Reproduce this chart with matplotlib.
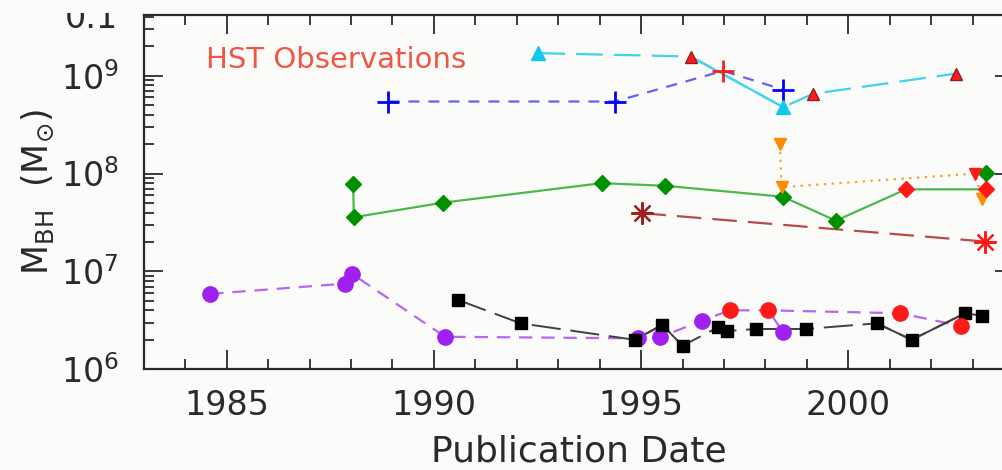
import matplotlib
matplotlib.use("Agg")
import matplotlib.pyplot as plt
from matplotlib.ticker import MultipleLocator
from matplotlib.transforms import Bbox

# Black hole mass estimates vs publication date (red markers = HST observations)

# purple circles
purple_year = [1984.6, 1987.86, 1988.03, 1990.27, 1994.93, 1995.46, 1996.46, 1997.15, 1998.07, 2001.25, 2002.72]
purple_mass = [5.9e6, 7.5e6, 9.4e6, 2.15e6, 2.07e6, 2.12e6, 3.14e6, 4.0e6, 4.0e6, 3.74e6, 2.77e6]
purple_hst = [0, 0, 0, 0, 0, 0, 0, 1, 1, 1, 1]
purple_rev_year = [1998.07, 1998.43]
purple_rev_mass = [4.0e6, 2.39e6]

# black squares
black_year = [1990.59, 1992.09, 1994.85, 1995.51, 1996.0, 1996.86, 1997.07, 1997.77, 1998.97, 2000.69, 2001.53, 2002.82, 2003.22]
black_mass = [5.1e6, 2.95e6, 2.0e6, 2.84e6, 1.74e6, 2.69e6, 2.46e6, 2.58e6, 2.58e6, 2.95e6, 2.0e6, 3.74e6, 3.53e6]
black_solid = [(2, 3), (3, 4), (7, 8), (9, 10), (10, 11)]

# green diamonds
green_year = [1988.05, 1988.07, 1990.23, 1994.05, 1995.58, 1998.42, 1999.70, 2001.39, 2003.32, 2003.32]
green_mass = [7.8e7, 3.58e7, 5.05e7, 7.98e7, 7.5e7, 5.8e7, 3.3e7, 6.9e7, 6.9e7, 1.02e8]
green_hst = [0, 0, 0, 0, 0, 0, 0, 1, 1, 0]

# orange down triangles
orange_year = [1998.35, 1998.39, 2003.06, 2003.22]
orange_mass = [2.0e8, 7.26e7, 1.0e8, 5.5e7]
orange_hst = [0, 0, 1, 0]

# brown asterisks
star_year = [1995.01, 2003.30]
star_mass = [3.94e7, 2.02e7]
star_hst = [0, 1]

# blue plus signs
blue_year = [1988.9, 1994.37, 1996.98, 1998.43]
blue_mass = [5.45e8, 5.45e8, 1.12e9, 7.2e8]
blue_hst = [0, 0, 1, 0]

# cyan triangles
cyan_year = [1992.52, 1996.2, 1998.43, 1999.15, 2002.59]
cyan_mass = [1.7e9, 1.57e9, 4.77e8, 6.53e8, 1.05e9]
cyan_hst = [0, 1, 0, 1, 1]
cyan_solid = [(1, 2)]

HST_RED = "#ff1a1a"
INK = "#2a2a2a"

fig = plt.figure(figsize=(10.03, 4.70), dpi=100, facecolor="#fbfcfa")
ax = fig.add_axes([0.1434, 0.2143, 1.011 - 0.1434, 0.968 - 0.2143])
ax.set_facecolor("#fbfcfa")


def draw_markers(xs, ys, flags, color, marker, ms, hst_ms=None, mew=1.0, hst_mec=None):
    hst_ms = hst_ms or ms
    for x, y, f in zip(xs, ys, flags):
        if f:
            ax.plot(x, y, marker=marker, ms=hst_ms, color=HST_RED, mew=mew,
                    mec=hst_mec or HST_RED, zorder=6, ls="none")
        else:
            ax.plot(x, y, marker=marker, ms=ms, color=color, mew=mew, zorder=5, ls="none")


def draw_solid(xs, ys, pairs, color, lw):
    for i, j in pairs:
        ax.plot([xs[i], xs[j]], [ys[i], ys[j]], color=color, lw=lw, zorder=3)


# purple
ax.plot(purple_year, purple_mass, color="#b766f2", lw=1.6, dashes=(6, 4), zorder=2)
ax.plot(purple_rev_year, purple_rev_mass, color="#b766f2", lw=1.6, zorder=2)
draw_markers(purple_year, purple_mass, purple_hst, "#a020f0", "o", 11)
ax.plot(purple_rev_year[1], purple_rev_mass[1], "o", ms=11, color="#a020f0", zorder=5)

# black
ax.plot(black_year, black_mass, color="#404040", lw=1.4, dashes=(15, 5), zorder=2)
draw_solid(black_year, black_mass, black_solid, "#404040", 1.4)
ax.plot(black_year, black_mass, "s", ms=8.5, color="black", zorder=5)

# green
ax.plot(green_year, green_mass, color="#4cb84c", lw=1.6, zorder=2)
draw_markers(green_year, green_mass, green_hst, "#009000", "D", 8)

# orange
ax.plot(orange_year, orange_mass, color="#ff9a20", lw=1.6, ls=(0, (1, 2.5)), zorder=2)
draw_markers(orange_year, orange_mass, orange_hst, "#ff8c00", "v", 9)

# brown asterisks
ax.plot(star_year, star_mass, color="#b84a4a", lw=1.6, dashes=(11, 5), zorder=2)
draw_markers(star_year, star_mass, star_hst, "#a02020", (8, 2, 0), 16, mew=1.6)

# blue
ax.plot(blue_year, blue_mass, color="#6262f2", lw=1.6, dashes=(5, 4), zorder=2)
draw_markers(blue_year, blue_mass, blue_hst, "#0000ff", "+", 16, mew=2.0)

# cyan
ax.plot(cyan_year, cyan_mass, color="#3fd3ee", lw=1.6, dashes=(12, 5), zorder=2)
draw_solid(cyan_year, cyan_mass, cyan_solid, "#3fd3ee", 1.6)
draw_markers(cyan_year, cyan_mass, cyan_hst, "#10c8e8", "^", 10, hst_ms=8, hst_mec="#902020")

ax.text(1984.5, 10 ** 9.16, "HST Observations", color="#f05545", fontsize=21, va="center")

ax.set_xlim(1983, 2004)
ax.set_yscale("log")
ax.set_ylim(1e6, 10 ** 9.62)
ax.xaxis.set_major_locator(MultipleLocator(5))
ax.xaxis.set_minor_locator(MultipleLocator(1))
ax.tick_params(which="both", direction="in", top=True, right=True, width=1.3,
               color=INK, labelsize=24, labelcolor=INK)
ax.tick_params(which="major", length=14)
ax.tick_params(which="minor", length=7)
ax.tick_params(axis="x", pad=14)
ax.tick_params(axis="y", pad=18)
for s in ax.spines.values():
    s.set_linewidth(1.6)
    s.set_color(INK)

ax.set_xlabel("Publication Date", fontsize=26, color=INK)
ax.xaxis.set_label_coords(0.5, -0.2334)
ax.xaxis.label.set_va("center")
ax.set_ylabel(r"M$_{\rm BH}$  (M$_{\odot}$)", fontsize=25, color=INK)
ax.yaxis.set_label_coords(-0.1216, 0.5)
ax.yaxis.label.set_va("center")

# label from the panel above, only its lower part shows in the crop
t = fig.text(118 / 1003, 1 - 28 / 470, "0.1", fontsize=24, ha="right", va="baseline", color=INK)
t.set_clip_on(True)
t.set_clip_box(Bbox([[0, 470 - 30], [200, 470 - 13]]))

fig.savefig("out.png", dpi=100, facecolor=fig.get_facecolor())
